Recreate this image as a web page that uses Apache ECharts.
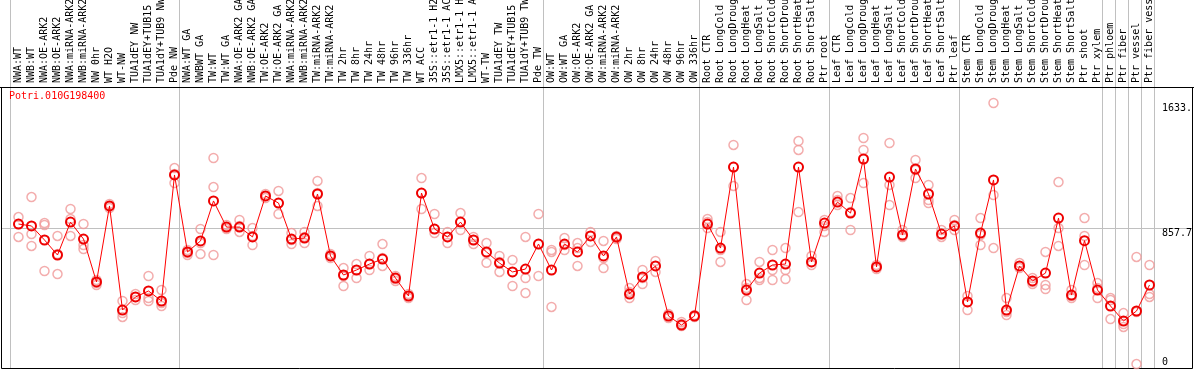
<!DOCTYPE html>
<html><head><meta charset="utf-8">
<script src="https://cdn.jsdelivr.net/npm/echarts@6/dist/echarts.min.js"></script>
<style>html,body{margin:0;padding:0;background:#fff;overflow:hidden}#c{width:1194px;height:370px}</style>
</head><body><div id="c"></div>
<script>
const categories = [
  'NWA:WT','NWB:WT','NWA:OE-ARK2','NWB:OE-ARK2','NWA:miRNA-ARK2','NWB:miRNA-ARK2','NW 0hr','WT H2O','WT-NW','TUA1dEY NW',
  'TUA1dEY+TUB15 NW','TUA1dY+TUB9 NW','Pde NW','NWA:WT GA','NWBWT GA','TW:WT','TW:WT GA','NWA:OE-ARK2 GA','NWB:OE-ARK2 GA','TW:OE-ARK2',
  'TW:OE-ARK2 GA','NWA:miRNA-ARK2 GA','NWB:miRNA-ARK2 GA','TW:miRNA-ARK2','TW:miRNA-ARK2','TW 2hr','TW 8hr','TW 24hr','TW 48hr','TW 96hr',
  'TW 336hr','WT ACC','35S::etr1-1 H2O','35S::etr1-1 ACC','LMX5::etr1-1 H2O','LMX5::etr1-1 ACC','WT-TW','TUA1dEY TW','TUA1dEY+TUB15 TW','TUA1dY+TUB9 TW',
  'Pde TW','OW:WT','OW:WT GA','OW:OE-ARK2','OW:OE-ARK2 GA','OW:miRNA-ARK2','OW:miRNA-ARK2','OW 2hr','OW 8hr','OW 24hr',
  'OW 48hr','OW 96hr','OW 336hr','Root CTR','Root LongCold','Root LongDrought','Root LongHeat','Root LongSalt','Root ShortCold','Root ShortDrought',
  'Root ShortHeat','Root ShortSalt','Ptr root','Leaf CTR','Leaf LongCold','Leaf LongDrought','Leaf LongHeat','Leaf LongSalt','Leaf ShortCold','Leaf ShortDrought',
  'Leaf ShortHeat','Leaf ShortSalt','Ptr leaf','Stem CTR','Stem LongCold','Stem LongDrought','Stem LongHeat','Stem LongSalt','Stem ShortCold','Stem ShortDrought',
  'Stem ShortHeat','Stem ShortSalt','Ptr shoot','Ptr xylem','Ptr phloem','Ptr fiber','Ptr vessel','Ptr fiber vessel'
];
const meanValues = [
  883,871,784,691,895,790,524,995,350,431,
  468,406,1187,710,778,1026,864,864,803,1057,
  1013,790,796,1069,685,567,598,635,666,548,
  437,1075,852,803,895,784,710,641,586,604,
  759,598,759,710,809,685,803,449,555,623,
  313,257,313,883,734,1236,474,579,629,635,
  1236,648,889,1019,951,1286,617,1174,815,1224,
  1069,821,871,400,827,1156,350,623,530,579,
  920,443,780,474,375,282,344,505
];
const rep1 = [
  926,1050,889,809,976,883,536,1007,406,449,
  561,474,1230,722,852,1292,877,908,858,1069,
  1088,827,834,1150,697,610,635,685,759,561,
  449,1168,945,834,951,803,765,685,660,803,
  945,722,796,765,834,778,809,486,598,654,
  325,276,319,914,834,1373,511,648,722,734,
  1397,685,908,1057,1044,1416,629,1385,846,1280,
  1125,846,908,437,920,1633,424,641,548,710,
  1143,474,920,517,424,331,679,629
];
const rep2 = [
  883,821,877,697,914,753,517,995,331,431,
  424,393,1193,703,765,1112,864,871,809,1057,
  1013,784,803,1075,685,561,598,635,672,542,
  437,1075,852,803,895,784,703,648,586,548,
  759,710,753,734,809,672,796,462,548,623,
  313,263,313,895,722,1236,486,548,598,598,
  1342,648,871,1032,957,1342,617,1125,815,1218,
  1032,821,877,400,815,1063,338,623,524,505,
  858,437,809,486,412,263,338,449
];
const rep3 = [
  803,747,592,573,809,728,505,982,307,412,
  406,375,1137,691,697,691,852,834,753,1044,
  945,759,765,995,672,499,548,598,623,530,
  424,976,827,765,846,759,643,586,499,455,
  561,369,722,623,772,610,790,424,511,586,
  301,251,307,858,648,1119,412,536,536,542,
  957,629,834,1001,846,1137,604,1001,803,1168,
  1013,803,846,350,753,734,319,610,511,480,
  747,424,629,424,294,245,15,431
];
const groupEnds = [13, 41, 53, 63, 73, 84, 85, 86, 87, 88];
const geneId = 'Potri.010G198400';
const axisMin = 0, axisMax = 1633, refValue = 857.7;
const sideLabels = [[axisMax, '1633.'], [refValue, '857.7'], [axisMin, '0']];

// layout: plot frame top at 87px, data range [0, axisMax] occupies 103..366.5 px
const gridTop = 87, gridBottom = 3.5, dataTopPx = 103;
const plotH = 370 - gridBottom - gridTop;
const yTop = axisMax * plotH / (370 - gridBottom - dataTopPx);

const FONT = '"DejaVu Sans Mono", monospace';
const chart = echarts.init(document.getElementById('c'), null, {renderer: 'canvas'});
const repStyle = {color: 'rgba(0,0,0,0)', borderColor: '#f09898', borderWidth: 1.5};
function repSeries(arr) {
  return {type: 'scatter', data: arr, symbol: 'circle', symbolSize: 9, clip: false,
    itemStyle: repStyle, z: 3, silent: true};
}
chart.setOption({
  animation: false,
  backgroundColor: '#ffffff',
  grid: {left: 12, right: 38, top: gridTop, bottom: gridBottom, containLabel: false, outerBoundsMode: 'none'},
  xAxis: {
    type: 'category', data: categories, boundaryGap: true, position: 'top',
    axisLine: {show: false}, axisTick: {show: false}, splitLine: {show: false},
    axisLabel: {interval: 0, rotate: 90, margin: 4, fontFamily: FONT, fontSize: 10, color: '#000'}
  },
  yAxis: {type: 'value', min: axisMin, max: yTop, show: false, splitLine: {show: false}},
  series: [
    repSeries(rep1), repSeries(rep2), repSeries(rep3),
    {type: 'line', data: meanValues, symbol: 'circle', symbolSize: 9, showAllSymbol: true, clip: false,
      lineStyle: {color: '#ff0000', width: 1},
      itemStyle: {color: 'rgba(0,0,0,0)', borderColor: '#ee0000', borderWidth: 2}, z: 5, silent: true}
  ]
});

const c0 = chart.convertToPixel({xAxisIndex: 0}, 0);
const c1 = chart.convertToPixel({xAxisIndex: 0}, 1);
const band = c1 - c0;
const frame = {x: 1.5, y: 87.5, right: 1192.5, bottom: 368.5};
const g = [];
const sepXs = [c0 - band / 2].concat(groupEnds.map(k => chart.convertToPixel({xAxisIndex: 0}, k - 1) + band / 2));
sepXs.forEach(x => {
  const xx = Math.round(x) - 1.5;
  g.push({type: 'line', z: 0, shape: {x1: xx, y1: 0, x2: xx, y2: frame.bottom}, style: {stroke: '#c0c0c0', lineWidth: 1}});
});
const refY = Math.round(chart.convertToPixel({yAxisIndex: 0}, refValue)) + 0.5;
g.push({type: 'line', z: 0, shape: {x1: frame.x, y1: refY, x2: frame.right, y2: refY}, style: {stroke: '#c0c0c0', lineWidth: 1}});
g.push({type: 'rect', z: 1, shape: {x: frame.x, y: frame.y, width: frame.right - frame.x, height: frame.bottom - frame.y},
  style: {fill: null, stroke: '#000', lineWidth: 1}});
g.push({type: 'line', z: 1, shape: {x1: 0, y1: frame.y, x2: 1194, y2: frame.y}, style: {stroke: '#000', lineWidth: 1}});
const labelX = sepXs[sepXs.length - 1] + 6;
sideLabels.forEach(([v, t]) => {
  let y = chart.convertToPixel({yAxisIndex: 0}, v);
  y = Math.min(y, frame.bottom - 11);
  g.push({type: 'text', z: 6, x: labelX, y: y, style: {text: t, font: '10px ' + FONT, fill: '#000', textVerticalAlign: 'top'}});
});
g.push({type: 'text', z: 6, x: 9, y: 91, style: {text: geneId, font: '10px ' + FONT, fill: '#ff0000', textVerticalAlign: 'top'}});
chart.setOption({graphic: g});
</script></body></html>
